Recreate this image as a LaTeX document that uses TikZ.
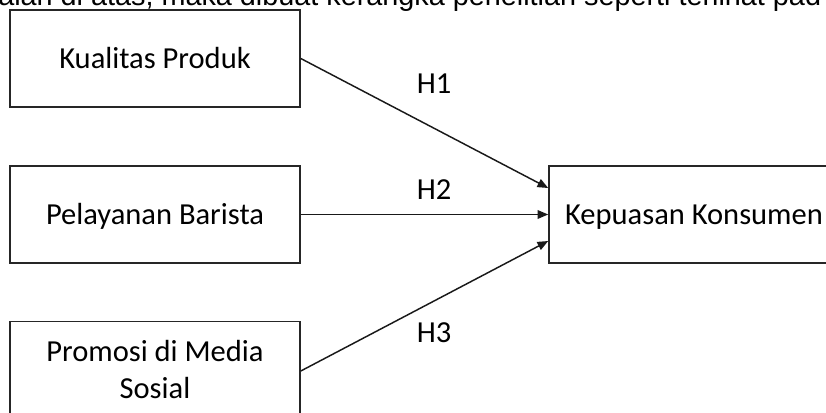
\documentclass[tikz,border=0pt]{standalone}
\usepackage{fontspec}
\setmainfont{Carlito}
\newfontfamily\arialfont{Liberation Sans}
\usetikzlibrary{arrows.meta,calc}
\begin{document}
\begin{tikzpicture}[x=0.75pt,y=-0.75pt,
  boxbase/.style={draw=black!85,line width=1.2pt,minimum width=217.5pt,minimum height=72.5pt,
    inner sep=0pt,align=center,font=\fontsize{22.9}{27.75}\selectfont},
  boxnode/.style={boxbase,text height=14.75pt,text depth=0pt},
  hlabel/.style={font=\fontsize{22.9}{27.75}\selectfont,inner sep=0pt,text height=14.75pt,text depth=0pt},
  conn/.style={draw=black!90,line width=1.1pt,-{Triangle[length=8pt,width=6.5pt]}},
  toptext/.style={font=\arialfont\fontsize{21.6}{26}\selectfont,inner sep=0pt,anchor=base west}
]
\useasboundingbox (0,0) rectangle (826,412);
\clip (0,0) rectangle (826,412);
\node[toptext] (top) at (-2,5.7) {alah di atas, maka dibuat kerangka penelitian seperti terlihat pad};
\node[boxnode] (b1) at (155,58.5) {Kualitas Produk};
\node[boxnode] (b2) at (155,214.5) {Pelayanan Barista};
\node[boxbase] (b3) at (155,370) {Promosi di Media\\Sosial};
\node[boxnode] (b4) at (694,214.5) {Kepuasan Konsumen};
\draw[conn] (b1.east) -- ($(b4.west)+(0,-26.5)$);
\draw[conn] (b2.east) -- (b4.west);
\draw[conn] ($(b3.east)+(0,1)$) -- ($(b4.west)+(0,26.5)$);
\node[hlabel] (h1) at (434,84) {H1};
\node[hlabel] (h2) at (434,190) {H2};
\node[hlabel] (h3) at (434,332.5) {H3};
\end{tikzpicture}
\end{document}
